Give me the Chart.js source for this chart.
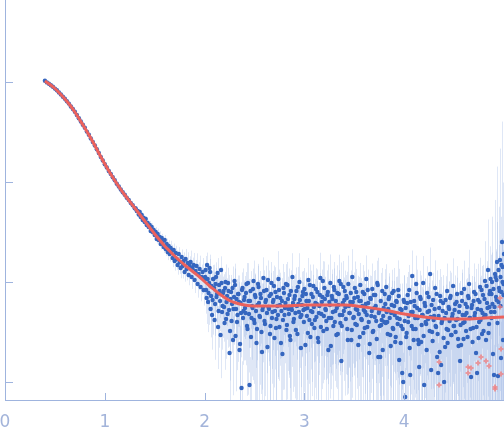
<!DOCTYPE html>
<html>
<head>
<meta charset="utf-8">
<script src="https://cdn.jsdelivr.net/npm/chart.js@4"></script>
<style>
  html, body { margin: 0; padding: 0; background: #fff; }
  #wrap { width: 504px; height: 438px; position: relative; }
</style>
</head>
<body>
<div id="wrap"><canvas id="chart"></canvas></div>
<script>
// scattering vector (x) and log10 intensity (y)
const qValues = [
  0.40,0.42,0.44,0.46,0.48,0.50,0.52,0.54,0.56,0.58,0.60,0.62,0.64,0.66,0.68,0.70,0.72,0.74,0.76,0.78,
  0.80,0.82,0.84,0.86,0.88,0.90,0.92,0.94,0.96,0.98,1.00,1.02,1.04,1.06,1.08,1.10,1.12,1.14,1.16,1.18,
  1.20,1.22,1.24,1.26,1.28,1.30,
  1.31,1.32,1.33,1.34,1.35,1.36,1.37,1.38,1.39,1.40,1.41,1.42,1.43,1.44,1.45,1.46,1.47,1.48,1.49,1.50,
  1.51,1.52,1.53,1.54,1.55,1.56,1.57,1.58,1.59,1.60,1.61,1.62,1.63,1.64,1.65,1.66,1.67,1.68,1.69,1.70,
  1.71,1.72,1.73,1.74,1.75,1.76,1.77,1.78,1.79,1.80,1.81,1.82,1.83,1.84,1.85,1.86,1.87,1.88,1.89,1.90,
  1.91,1.92,1.93,1.94,1.95,1.96,1.97,1.98,1.99,2.00,
  2.01,2.02,2.03,2.04,2.05,2.06,2.07,2.08,2.09,2.10,2.11,2.12,2.13,2.14,2.15,2.16,2.17,2.18,2.19,2.20,
  2.21,2.22,2.23,2.24,2.25,2.26,2.27,2.28,2.29,2.30,2.31,2.32,2.33,2.34,2.35,2.36,2.37,2.38,2.39,2.40,
  2.41,2.42,2.43,2.44,2.45,2.46,2.47,2.48,2.49,2.50,2.51,2.52,2.53,2.54,2.55,2.56,2.57,2.58,2.59,2.60,
  2.61,2.62,2.63,2.64,2.65,2.66,2.67,2.68,2.69,2.70,2.71,2.72,2.73,2.74,2.75,2.76,2.77,2.78,2.79,2.80,
  2.81,2.82,2.83,2.84,2.85,2.86,2.87,2.88,2.89,2.90,2.91,2.92,2.93,2.94,2.95,2.96,2.97,2.98,2.99,3.00,
  3.01,3.02,3.03,3.04,3.05,3.06,3.07,3.08,3.09,3.10,3.11,3.12,3.13,3.14,3.15,3.16,3.17,3.18,3.19,3.20,
  3.21,3.22,3.23,3.24,3.25,3.26,3.27,3.28,3.29,3.30,3.31,3.32,3.33,3.34,3.35,3.36,3.37,3.38,3.39,3.40,
  3.41,3.42,3.43,3.44,3.45,3.46,3.47,3.48,3.49,3.50,3.51,3.52,3.53,3.54,3.55,3.56,3.57,3.58,3.59,3.60,
  3.61,3.62,3.63,3.64,3.65,3.66,3.67,3.68,3.69,3.70,3.71,3.72,3.73,3.74,3.75,3.76,3.77,3.78,3.79,3.80,
  3.81,3.82,3.83,3.84,3.85,3.86,3.87,3.88,3.89,3.90,3.91,3.92,3.93,3.94,3.95,3.96,3.97,3.98,3.99,4.00,
  4.01,4.02,4.03,4.04,4.05,4.06,4.07,4.08,4.09,4.10,4.11,4.12,4.13,4.14,4.15,4.16,4.17,4.18,4.19,4.20,
  4.21,4.22,4.23,4.24,4.25,4.26,4.27,4.28,4.29,4.30,4.31,4.32,4.33,4.34,4.35,4.36,4.37,4.38,4.39,4.40,
  4.41,4.42,4.43,4.44,4.45,4.46,4.47,4.48,4.49,4.50,4.51,4.52,4.53,4.54,4.55,4.56,4.57,4.58,4.59,4.60,
  4.61,4.62,4.63,4.64,4.65,4.66,4.67,4.68,4.69,4.70,4.71,4.72,4.73,4.74,4.75,4.76,4.77,4.78,4.79,4.80,
  4.81,4.82,4.83,4.84,4.85,4.86,4.87,4.88,4.89,4.90,4.91,4.92,4.93,4.94,4.95,4.96,4.97,4.98,4.99,5.00,
  4.855,4.875,4.905,4.925,4.945,4.965,4.975,4.985,4.995,
  2.005,2.015,2.025,2.035,2.045,2.055,2.065,2.075,2.085,2.095,2.105,2.115,2.125,2.135,2.145,2.155,2.165,2.175,2.185,2.195,
  2.205,2.215,2.225,2.235,2.245,2.255,2.265,2.275,2.285,2.295,2.305,2.315,2.325,2.335,2.345,2.355,2.365,2.375,2.385,2.395,
  2.405,2.415,2.425,2.435,2.445,2.455,2.465,2.475,2.485,2.495,2.505,2.515,2.525,2.535,2.545,2.555,2.565,2.575,2.585,2.595,
  2.605,2.615,2.625,2.635,2.645,2.655,2.665,2.675,2.685,2.695,2.705,2.715,2.725,2.735,2.745,2.755,2.765,2.775,2.785,2.795,
  2.805,2.815,2.825,2.835,2.845,2.855,2.865,2.875,2.885,2.895,2.905,2.915,2.925,2.935,2.945,2.955,2.965,2.975,2.985,2.995,
  3.005,3.015,3.025,3.035,3.045,3.055,3.065,3.075,3.085,3.095,3.105,3.115,3.125,3.135,3.145,3.155,3.165,3.175,3.185,3.195,
  3.205,3.215,3.225,3.235,3.245,3.255,3.265,3.275,3.285,3.295,3.305,3.315,3.325,3.335,3.345,3.355,3.365,3.375,3.385,3.395,
  3.405,3.415,3.425,3.435,3.445,3.455,3.465,3.475,3.485,3.495,3.505,3.515,3.525,3.535,3.545,3.555,3.565,3.575,3.585,3.595,
  3.605,3.615,3.625,3.635,3.645,3.655,3.665,3.675,3.685,3.695,3.705,3.715,3.725,3.735,3.745,3.755,3.765,3.775,3.785,3.795,
  3.805,3.815,3.825,3.835,3.845,3.855,3.865,3.875,3.885,3.895,3.905,3.915,3.925,3.935,3.945,3.955,3.965,3.975,3.985,3.995,
  4.005,4.015,4.025,4.035,4.045,4.055,4.065,4.075,4.085,4.095,4.105,4.115,4.125,4.135,4.145,4.155,4.165,4.175,4.185,4.195,
  4.205,4.215,4.225,4.235,4.245,4.255,4.265,4.275,4.285,4.295,4.305,4.315,4.325,4.335,4.345,4.355,4.365,4.375,4.385,4.395,
  4.405,4.415,4.425,4.435,4.445,4.455,4.465,4.475,4.485,4.495,4.505,4.515,4.525,4.535,4.545,4.555,4.565,4.575,4.585,4.595,
  4.605,4.615,4.625,4.635,4.645,4.655,4.665,4.675,4.685,4.695,4.705,4.715,4.725,4.735,4.745,4.755,4.765,4.775,4.785,4.795,
  4.805,4.815,4.825,4.835,4.845,4.855,4.865,4.875,4.885,4.895,4.905,4.915,4.925,4.935,4.945,4.955,4.965,4.975,4.985,4.995
];

const logI = [
  0.012,-0.004,-0.017,-0.033,-0.047,-0.066,-0.083,-0.104,-0.124,-0.147,-0.168,-0.193,-0.216,-0.245,-0.27,-0.298,-0.33,-0.362,-0.395,-0.428,
  -0.458,-0.496,-0.527,-0.564,-0.6,-0.634,-0.672,-0.71,-0.749,-0.784,-0.822,-0.854,-0.89,-0.919,-0.952,-0.983,-1.017,-1.045,-1.075,-1.103,
  -1.128,-1.158,-1.18,-1.209,-1.232,-1.262,
  -1.265,-1.29,-1.29,-1.325,-1.30,-1.35,-1.33,-1.38,-1.36,-1.40,-1.37,-1.43,-1.41,-1.45,-1.43,-1.49,-1.45,-1.50,-1.48,-1.53,
  -1.50,-1.57,-1.52,-1.58,-1.55,-1.62,-1.56,-1.60,-1.65,-1.58,-1.67,-1.62,-1.70,-1.64,-1.72,-1.66,-1.69,-1.76,-1.68,-1.79,
  -1.71,-1.77,-1.83,-1.72,-1.80,-1.86,-1.75,-1.84,-1.79,-1.90,-1.77,-1.87,-1.81,-1.93,-1.84,-1.80,-1.95,-1.86,-1.83,-1.98,
  -1.89,-1.84,-2.02,-1.92,-1.87,-2.05,-1.95,-1.90,-2.08,-1.97,
  -1.88,-2.16,-1.97,-2.11,-1.86,-2.27,-2.04,-2.18,-1.97,-2.38,-2.02,-2.15,-1.91,-2.29,-2.09,-2.53,-2.01,-2.24,-2.09,-2.41,
  -2.00,-2.20,-2.32,-2.09,-2.71,-2.17,-2.39,-2.06,-2.27,-1.99,-2.54,-2.17,-2.33,-2.12,-2.68,-2.21,-3.06,-2.06,-2.29,-2.15,
  -2.31,-2.02,-2.47,-2.19,-3.03,-2.09,-2.36,-2.26,-1.99,-2.41,-2.15,-2.61,-2.23,-2.05,-2.34,-2.12,-2.50,-2.28,-1.96,-2.39,
  -2.20,-2.08,-2.65,-2.25,-2.14,-2.44,-2.01,-2.30,-2.18,-2.56,-2.10,-2.37,-2.24,-1.97,-2.45,-2.16,-2.29,-2.72,-2.06,-2.33,
  -2.21,-2.48,-2.03,-2.27,-2.13,-2.58,-2.25,-1.95,-2.40,-2.17,-2.31,-2.09,-2.52,-2.22,-2.00,-2.35,-2.33,-2.14,-2.28,-2.07,
  -2.63,-2.19,-2.26,-1.98,-2.38,-2.55,-2.12,-2.30,-2.04,-2.46,-2.21,-2.35,-2.10,-2.60,-2.24,-1.96,-2.32,-2.15,-2.49,-2.06,
  -2.27,-2.39,-2.13,-2.68,-2.20,-2.01,-2.36,-2.17,-2.44,-2.08,-2.29,-2.53,-2.11,-2.23,-1.99,-2.41,-2.79,-2.33,-2.05,-2.18,
  -2.25,-2.14,-2.47,-2.02,-2.31,-2.20,-2.58,-1.95,-2.36,-2.16,-2.42,-2.10,-2.28,-2.63,-2.19,-2.03,-2.37,-2.24,-2.51,-2.12,
  -2.30,-1.97,-2.45,-2.21,-2.71,-2.16,-2.34,-2.07,-2.49,-2.26,-2.13,-2.39,-2.01,-2.75,-2.29,-2.75,-2.43,-2.09,-2.34,-2.40,
  -2.22,-2.05,-2.40,-2.27,-2.15,-2.53,-2.31,-2.11,-2.47,-2.24,-2.60,-2.19,-2.36,-2.08,-2.78,-2.27,-2.44,-2.91,-3.00,-2.20,
  -3.15,-2.55,-2.21,-2.40,-2.08,-2.93,-2.30,-1.94,-2.47,-2.19,-2.36,-2.02,-2.26,-2.58,-2.85,-2.15,-2.60,-2.33,-2.01,-3.03,
  -2.24,-2.42,-2.11,-2.37,-2.29,-1.92,-2.88,-2.50,-2.18,-2.34,-2.06,-2.45,-2.75,-2.91,-2.26,-2.14,-2.83,-2.39,-2.21,-3.00,
  -2.65,-2.31,-2.09,-2.48,-2.27,-2.16,-2.53,-2.35,-2.04,-2.44,-2.22,-2.38,-2.12,-2.57,-2.30,-2.79,-2.63,-2.19,-2.41,-2.07,
  -2.33,-2.49,-2.25,-2.14,-2.02,-2.36,-2.95,-2.23,-2.46,-2.10,-2.31,-2.71,-2.91,-2.18,-2.40,-2.05,-2.28,-2.52,-2.13,-2.35,
  -1.99,-2.58,-2.21,-1.88,-2.42,-2.09,-2.30,-2.00,-2.72,-2.93,-1.92,-2.15,-1.80,-2.94,-2.06,-1.78,-2.76,-1.60,-2.58,-1.72,
  -2.25,-2.12,-2.25,-1.98,-2.20,-1.95,-2.10,-1.85,-2.02,
  -1.95,-2.08,-1.83,-2.20,-2.01,-1.90,-2.14,-2.33,-1.97,-2.06,-2.22,-1.95,-2.12,-2.45,-2.03,-2.19,-1.88,-2.30,-2.11,-2.25,
  -2.06,-2.37,-2.14,-2.01,-2.28,-2.49,-2.10,-2.22,-2.58,-2.15,-2.03,-2.27,-2.40,-2.12,-2.20,-2.62,-2.31,-2.08,-2.36,-2.18,
  -2.26,-2.11,-2.44,-2.01,-2.32,-2.19,-2.55,-2.24,-2.07,-2.38,-2.13,-2.29,-2.47,-2.02,-2.21,-2.35,-2.16,-2.70,-2.25,-2.09,
  -2.42,-2.18,-2.31,-1.98,-2.27,-2.52,-2.12,-2.36,-2.20,-2.04,-2.29,-2.46,-2.15,-2.33,-2.08,-2.23,-2.61,-2.19,-2.38,-2.11,
  -2.26,-2.02,-2.43,-2.17,-2.32,-2.54,-2.09,-2.28,-2.21,-2.37,-2.14,-2.48,-2.24,-2.05,-2.30,-2.18,-2.66,-2.23,-2.10,-2.40,
  -2.27,-2.12,-2.34,-2.51,-2.19,-2.03,-2.29,-2.42,-2.15,-2.25,-2.38,-2.07,-2.22,-2.56,-2.31,-2.13,-2.45,-2.20,-1.99,-2.34,
  -2.17,-2.28,-2.47,-2.10,-2.36,-2.23,-2.64,-2.14,-2.30,-2.05,-2.40,-2.19,-2.26,-2.52,-2.12,-2.33,-2.02,-2.44,-2.21,-2.29,
  -2.09,-2.37,-2.16,-2.58,-2.24,-2.31,-2.11,-2.48,-2.20,-2.35,-2.06,-2.27,-2.43,-2.15,-2.32,-2.55,-2.19,-2.38,-2.10,-2.28,
  -2.46,-2.22,-2.33,-2.08,-2.40,-2.62,-2.17,-2.29,-2.50,-2.13,-2.35,-2.24,-2.57,-2.03,-2.31,-2.44,-2.19,-2.38,-2.68,-2.26,
  -2.12,-2.41,-2.30,-2.52,-2.17,-2.36,-2.64,-2.23,-2.46,-2.09,-2.33,-2.55,-2.20,-2.42,-2.14,-2.37,-2.61,-2.28,-2.47,-2.18,
  -2.39,-2.26,-2.51,-2.13,-2.34,-2.66,-2.20,-2.44,-2.30,-2.58,-2.24,-2.47,-2.11,-2.36,-2.62,-2.28,-2.17,-2.43,-2.33,-2.54,
  -2.21,-2.40,-2.68,-2.30,-2.15,-2.49,-2.35,-2.23,-2.59,-2.38,-2.27,-2.44,-2.12,-2.52,-2.34,-2.70,-2.19,-2.41,-2.29,-2.56,
  -2.36,-2.18,-2.47,-2.61,-2.25,-2.39,-2.14,-2.53,-2.32,-2.44,-2.28,-2.50,-2.20,-2.37,-2.64,-2.24,-2.43,-2.11,-2.33,-2.57,
  -2.40,-2.22,-2.31,-2.55,-2.16,-2.36,-2.47,-2.26,-2.60,-2.19,-2.34,-2.12,-2.45,-2.27,-2.56,-2.20,-2.38,-2.08,-2.31,-2.49,
  -2.17,-2.33,-2.04,-2.26,-2.51,-2.12,-1.97,-2.36,-2.22,-2.07,-2.30,-1.95,-2.18,-2.41,-1.88,-2.09,-2.24,-1.83,-2.00,-2.13
];

// relative error sigma/I for each point
const relErr = [
  0.01,0.01,0.01,0.01,0.01,0.01,0.01,0.01,0.01,0.01,0.01,0.01,0.01,0.01,0.01,0.015,0.015,0.015,0.015,0.015,
  0.015,0.015,0.015,0.015,0.02,0.02,0.02,0.02,0.02,0.02,0.02,0.02,0.025,0.025,0.025,0.025,0.025,0.03,0.03,0.03,
  0.03,0.03,0.035,0.035,0.035,0.04,
  0.05,0.06,0.05,0.07,0.06,0.05,0.07,0.06,0.08,0.06,0.07,0.09,0.08,0.07,0.1,0.08,0.09,0.11,0.08,0.1,
  0.12,0.1,0.13,0.11,0.14,0.12,0.1,0.15,0.13,0.12,0.15,0.13,0.17,0.14,0.16,0.18,0.15,0.19,0.16,0.2,
  0.18,0.22,0.2,0.17,0.24,0.21,0.19,0.25,0.22,0.2,0.26,0.23,0.28,0.21,0.25,0.3,0.24,0.27,0.32,0.26,
  0.29,0.34,0.27,0.31,0.36,0.28,0.33,0.38,0.3,0.35,
  0.38,0.45,0.4,0.52,0.36,0.48,0.42,0.55,0.39,0.6,0.44,0.5,0.41,0.57,0.46,0.63,0.43,0.52,0.47,0.66,
  0.5,0.58,0.54,0.45,0.7,0.6,0.52,0.64,0.56,0.49,0.72,0.58,0.66,0.53,0.75,0.61,0.85,0.57,0.68,0.62,
  0.7,0.62,0.78,0.66,0.9,0.58,0.74,0.81,0.6,0.86,0.67,0.79,0.72,0.63,0.88,0.7,0.76,0.84,0.61,0.92,
  0.69,0.75,0.83,0.65,0.8,0.87,0.62,0.73,0.95,0.68,0.77,0.85,0.64,0.9,0.71,0.79,0.66,0.93,0.74,0.82,
  0.6,0.88,0.7,0.76,0.84,0.67,0.91,0.73,0.8,0.63,0.86,0.72,0.78,0.65,0.94,0.69,0.81,0.75,0.89,0.62,
  0.83,0.7,0.92,0.66,0.77,0.87,0.71,0.8,0.64,0.9,0.74,0.85,0.68,0.96,0.73,0.79,0.62,0.88,0.7,0.84,
  0.66,0.91,0.76,0.81,0.69,0.93,0.72,0.78,0.86,0.64,0.8,0.7,0.89,0.75,0.83,0.67,0.95,0.73,0.82,0.68,
  0.87,0.62,0.78,0.92,0.71,0.84,0.76,0.9,0.65,0.8,0.85,0.7,0.79,0.93,0.74,0.66,0.88,0.77,0.82,0.69,
  0.91,0.72,0.86,0.76,0.95,0.68,0.83,0.8,0.9,0.73,0.78,0.87,0.67,0.94,0.81,0.75,0.89,0.7,0.84,0.97,
  0.76,0.69,0.92,0.8,0.73,0.88,0.82,0.71,0.9,0.78,0.95,0.74,0.86,0.98,0.83,0.79,0.91,0.94,0.96,0.85,
  0.95,0.88,0.82,0.9,0.78,0.97,0.85,0.8,0.93,0.87,0.84,0.92,0.89,0.96,0.98,0.83,0.94,0.9,0.86,0.99,
  0.88,0.95,0.85,0.93,0.9,0.84,0.98,0.92,0.87,0.94,0.89,0.96,0.97,0.99,0.91,0.86,0.98,0.93,0.9,1.1,
  0.97,0.92,0.88,0.95,0.9,0.87,0.99,0.94,0.89,1.05,0.93,0.97,0.9,1.0,0.95,0.99,0.98,0.91,0.96,0.92,
  0.97,1.1,0.94,0.92,1.2,1.0,0.99,0.95,1.15,0.93,1.05,0.99,1.0,1.3,1.1,0.96,1.2,1.4,1.0,1.25,
  1.5,1.1,1.35,2.2,1.6,1.8,1.3,3.5,1.2,1.0,4.5,2.0,8.0,1.1,5.5,12,1.3,15,2.5,9.0,
  1.4,1.6,2.0,2.8,1.9,3.0,2.4,6.0,3.5,
  0.36,0.42,0.33,0.5,0.4,0.35,0.47,0.55,0.38,0.44,0.52,0.4,0.48,0.62,0.43,0.5,0.37,0.58,0.46,0.55,
  0.45,0.6,0.5,0.42,0.57,0.68,0.48,0.55,0.72,0.52,0.46,0.6,0.67,0.53,0.58,0.78,0.64,0.5,0.66,0.57,
  0.7,0.62,0.8,0.58,0.74,0.66,0.86,0.71,0.6,0.77,0.64,0.73,0.83,0.59,0.69,0.79,0.65,0.9,0.72,0.61,
  0.81,0.68,0.75,0.57,0.7,0.85,0.63,0.78,0.67,0.6,0.74,0.84,0.66,0.76,0.6,0.71,0.88,0.69,0.8,0.62,
  0.72,0.58,0.82,0.67,0.77,0.87,0.61,0.73,0.7,0.79,0.65,0.83,0.71,0.59,0.75,0.68,0.91,0.7,0.62,0.8,
  0.73,0.64,0.77,0.85,0.69,0.6,0.74,0.81,0.66,0.72,0.79,0.61,0.7,0.86,0.76,0.65,0.82,0.71,0.58,0.77,
  0.67,0.8,0.68,0.88,0.72,0.76,0.63,0.84,0.7,0.78,0.62,0.79,0.66,0.9,0.73,0.75,0.64,0.85,0.69,0.8,
  0.6,0.72,0.83,0.67,0.76,0.87,0.68,0.79,0.62,0.74,0.84,0.7,0.77,0.63,0.81,0.9,0.69,0.73,0.86,0.66,
  0.78,0.72,0.88,0.6,0.75,0.82,0.7,0.79,0.92,0.74,0.67,0.83,0.76,0.87,0.69,0.8,0.91,0.73,0.84,0.64,
  0.77,0.86,0.71,0.82,0.68,0.79,0.89,0.75,0.85,0.7,0.74,0.63,0.8,0.71,0.87,0.66,0.78,0.84,0.69,0.76,
  0.82,0.76,0.88,0.7,0.8,0.93,0.74,0.85,0.79,0.9,0.77,0.87,0.71,0.81,0.94,0.78,0.72,0.86,0.8,0.91,
  0.75,0.84,0.96,0.79,0.7,0.88,0.81,0.76,0.92,0.83,0.78,0.87,0.72,0.9,0.8,0.97,0.74,0.85,0.79,0.93,
  0.82,0.73,0.88,0.95,0.78,0.84,0.71,0.9,0.8,0.86,0.77,0.89,0.75,0.83,0.96,0.78,0.86,0.72,0.81,0.92,
  0.85,0.76,0.8,0.94,0.73,0.84,0.9,0.79,0.97,0.75,0.86,0.78,0.92,0.81,0.98,0.76,0.88,0.74,0.85,0.95,
  0.8,0.9,0.77,0.87,1.0,0.82,0.75,0.93,0.84,0.79,0.95,0.8,0.88,1.05,0.78,0.9,0.97,0.85,1.1,0.92
];

// points left out of the fit (pink)
const excludedQ = [4.35,4.35,4.64,4.67,4.64,4.74,4.77,4.82,4.85,4.91,4.91,4.96,4.96,4.97,4.97];
const excludedLogI = [-2.80,-3.03,-2.85,-2.86,-2.91,-2.81,-2.75,-2.79,-2.84,-3.05,-3.07,-2.16,-2.25,-2.67,-2.92];

// model fit curve
const fitQ = [0.40,0.45,0.50,0.55,0.60,0.65,0.70,0.75,0.80,0.85,0.90,0.95,1.00,1.05,1.10,1.15,1.20,1.25,1.30,1.35,
  1.40,1.45,1.50,1.55,1.60,1.65,1.70,1.75,1.80,1.85,1.90,1.95,2.00,2.05,2.10,2.15,2.20,2.25,2.30,2.35,
  2.40,2.50,2.60,2.80,3.00,3.20,3.40,3.60,3.80,4.00,4.20,4.40,4.60,4.80,5.00];
const fitLogI = [0.01,-0.025,-0.065,-0.115,-0.17,-0.23,-0.30,-0.38,-0.46,-0.545,-0.635,-0.73,-0.82,-0.905,-0.985,-1.06,-1.13,-1.195,-1.26,-1.325,
  -1.39,-1.455,-1.52,-1.58,-1.64,-1.69,-1.74,-1.785,-1.83,-1.87,-1.91,-1.95,-1.995,-2.04,-2.08,-2.12,-2.155,-2.185,-2.205,-2.22,
  -2.23,-2.24,-2.24,-2.24,-2.23,-2.23,-2.23,-2.25,-2.28,-2.32,-2.35,-2.37,-2.37,-2.36,-2.35];

const xTicks = [0, 1, 2, 3, 4];
const yTicks = [-3, -2, -1, 0];

const axisColor = '#9fb4de';

const errorBars = {
  id: 'errorBars',
  beforeDatasetsDraw(chart) {
    const {ctx, chartArea, scales: {x, y}} = chart;
    ctx.save();
    ctx.beginPath();
    ctx.rect(chartArea.left, chartArea.top, chartArea.width, chartArea.height);
    ctx.clip();
    ctx.strokeStyle = 'rgba(150,176,226,0.3)';
    ctx.lineWidth = 1;
    qValues.forEach((q, i) => {
      const r = relErr[i];
      const hi = logI[i] + Math.log10(1 + r);
      const lo = r < 1 ? logI[i] + Math.log10(1 - r) : y.min;
      const px = Math.round(x.getPixelForValue(q)) + 0.5;
      ctx.beginPath();
      ctx.moveTo(px, y.getPixelForValue(hi));
      ctx.lineTo(px, y.getPixelForValue(lo));
      ctx.stroke();
    });
    ctx.restore();
  }
};

// tick marks point into the plot
const innerTicks = {
  id: 'innerTicks',
  afterDraw(chart) {
    const {ctx, chartArea, scales: {x, y}} = chart;
    ctx.save();
    ctx.strokeStyle = axisColor;
    ctx.lineWidth = 1;
    yTicks.forEach(v => {
      const py = Math.round(y.getPixelForValue(v)) + 0.5;
      ctx.beginPath();
      ctx.moveTo(chartArea.left, py);
      ctx.lineTo(chartArea.left + 8, py);
      ctx.stroke();
    });
    xTicks.slice(1).forEach(v => {
      const px = Math.round(x.getPixelForValue(v)) + 0.5;
      ctx.beginPath();
      ctx.moveTo(px, chartArea.bottom);
      ctx.lineTo(px, chartArea.bottom - 7);
      ctx.stroke();
    });
    ctx.restore();
  }
};

new Chart(document.getElementById('chart'), {
  type: 'scatter',
  data: {
    datasets: [{
      label: 'fit',
      data: fitQ.map((q, i) => ({x: q, y: fitLogI[i]})),
      showLine: true,
      borderColor: '#eb625d',
      borderWidth: 3,
      pointRadius: 0,
      cubicInterpolationMode: 'monotone',
      order: 0
    }, {
      label: 'excluded',
      data: excludedQ.map((q, i) => ({x: q, y: excludedLogI[i]})),
      pointStyle: 'cross',
      pointRadius: 2.5,
      borderWidth: 2,
      borderColor: 'rgba(240,128,128,0.75)',
      backgroundColor: 'rgba(240,128,128,0.75)',
      order: 1
    }, {
      label: 'data',
      data: qValues.map((q, i) => ({x: q, y: logI[i]})),
      pointRadius: 2.2,
      borderWidth: 0,
      backgroundColor: '#3566bf',
      order: 2
    }]
  },
  options: {
    responsive: true,
    maintainAspectRatio: false,
    animation: false,
    layout: { padding: 0, autoPadding: false },
    plugins: { legend: { display: false }, tooltip: { enabled: false } },
    scales: {
      x: {
        type: 'linear',
        min: 0,
        max: 5,
        grid: { display: false },
        border: { color: axisColor, width: 1 },
        ticks: {
          color: '#a3b4da',
          font: { family: 'DejaVu Sans', size: 17 },
          padding: 4,
          maxRotation: 0,
          autoSkip: false
        },
        afterBuildTicks: s => { s.ticks = xTicks.map(v => ({value: v})); },
        afterFit: s => { s.height = 38; s.paddingLeft = 0; s.paddingRight = 0; }
      },
      y: {
        type: 'linear',
        min: -3.18,
        max: 0.82,
        grid: { display: false },
        border: { color: axisColor, width: 1 },
        ticks: { display: false },
        afterBuildTicks: s => { s.ticks = yTicks.map(v => ({value: v})); },
        afterFit: s => { s.width = 5; }
      }
    }
  },
  plugins: [errorBars, innerTicks]
});
</script>
</body>
</html>
